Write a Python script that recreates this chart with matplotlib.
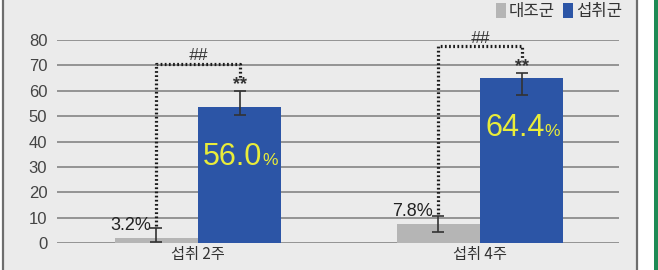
import matplotlib
matplotlib.use("Agg")
import matplotlib.pyplot as plt
from matplotlib.patches import Rectangle
import numpy as np

# --- dati ---
gruppi = ["섭취 2주", "섭취 4주"]
serie = ["대조군", "섭취군"]
controllo = [2.1, 7.6]
trattato = [53.7, 65.0]
controllo_err_basso = [1.5, 3.3]
controllo_err_alto = [3.9, 3.0]
trattato_err_basso = [3.3, 6.7]
trattato_err_alto = [6.3, 2.0]
etichette_controllo = ["3.2%", "7.8%"]
etichette_trattato = ["56.0", "64.4"]
y_ticks = [0, 10, 20, 30, 40, 50, 60, 70, 80]

COL_GRIGIO = "#b5b5b5"
COL_BLU = "#2c55a6"
COL_GIALLO = "#e9ec3a"
COL_SFONDO = "#ebebeb"
FONT_NUM = "Liberation Sans"
FONT_KR = ["Noto Sans CJK KR", "DejaVu Sans"]

W, H = 658, 270
fig = plt.figure(figsize=(W / 100, H / 100), dpi=100)
fig.patch.set_facecolor("white")

# pannello grigio con cornice
fig.patches.append(Rectangle((3 / W, -0.1), (637 - 3) / W, 1.2, transform=fig.transFigure,
                             facecolor=COL_SFONDO, edgecolor="#6e6e6e", lw=1.6, zorder=-5))
fig.patches.append(Rectangle((654 / W, -0.1), 4 / W, 1.2, transform=fig.transFigure,
                             facecolor="#1e8a55", edgecolor="none", zorder=-5))

ax = fig.add_axes([57 / W, (H - 243.3) / H, (619 - 57) / W, (243.3 - 40) / H])
ax.set_facecolor("none")

x = np.arange(len(gruppi))
larg = 0.295
x_c = x - larg / 2
x_t = x + larg / 2

ax.bar(x_c, controllo, width=larg, color=COL_GRIGIO, label=serie[0], zorder=2)
ax.bar(x_t, trattato, width=larg, color=COL_BLU, label=serie[1], zorder=2)
ax.errorbar(x_c, controllo, yerr=[controllo_err_basso, controllo_err_alto], fmt="none",
            ecolor="#333333", elinewidth=1.2, capsize=4, capthick=1.2, zorder=3)
ax.errorbar(x_t, trattato, yerr=[trattato_err_basso, trattato_err_alto], fmt="none",
            ecolor="#333333", elinewidth=1.2, capsize=4, capthick=1.2, zorder=3)

for i in range(len(gruppi)):
    top_c = controllo[i] + controllo_err_alto[i]
    top_t = trattato[i] + trattato_err_alto[i]
    y_br = top_t + 10.5
    # parentesi tratteggiata
    ax.plot([x_c[i], x_c[i], x_t[i], x_t[i]], [top_c + 1, y_br, y_br, top_t + 5],
            color="#1a1a1a", lw=2.3, linestyle=(0, (0.55, 0.75)), zorder=4, clip_on=False)
    ax.text(x[i], y_br + 0.3, "##", ha="center", va="bottom", fontsize=12.5,
            style="italic", color="#333333", family=FONT_NUM, zorder=5)
    ax.text(x_t[i], top_t + 2.5, "**", ha="center", va="center", fontsize=13,
            fontweight="bold", color="#333333", family=FONT_NUM, zorder=5)
    # etichette valori
    ax.annotate(etichette_controllo[i], (x_c[i], controllo[i] + 3), xytext=(-4, 0),
                textcoords="offset points", ha="right", va="baseline", fontsize=13,
                color="#222222", family=FONT_NUM, zorder=5)
    y_lab = trattato[i] - 22.7
    ax.annotate(etichette_trattato[i], (x_t[i], y_lab), xytext=(16.5, 0),
                textcoords="offset points", ha="right", va="baseline", fontsize=22,
                color=COL_GIALLO, family=FONT_NUM, zorder=5)
    ax.annotate("%", (x_t[i], y_lab), xytext=(16.5, 0),
                textcoords="offset points", ha="left", va="baseline", fontsize=12.5,
                color=COL_GIALLO, family=FONT_NUM, zorder=5)

ax.set_xlim(-0.5, 1.493)
ax.set_ylim(0, 80)
ax.set_yticks(y_ticks)
ax.set_xticks(x)
ax.set_xticklabels(gruppi, family=FONT_KR, fontsize=11, color="#333333")
ax.tick_params(axis="x", length=0, pad=2)
ax.tick_params(axis="y", length=0, pad=7, labelsize=12, labelcolor="#444444")
for lab in ax.get_yticklabels():
    lab.set_family(FONT_NUM)
ax.grid(axis="y", color="#8c8c8c", lw=1.3, zorder=1)
ax.set_axisbelow(True)
for sp in ax.spines.values():
    sp.set_visible(False)

leg = ax.legend(loc="upper right", bbox_to_anchor=(622 / W, 1 - 3 / H),
                bbox_transform=fig.transFigure, ncol=2, frameon=False,
                handlelength=0.6, handleheight=1.0, handletextpad=0.15,
                columnspacing=0.5, borderaxespad=0, borderpad=0,
                prop={"family": FONT_KR, "size": 12})
for t in leg.get_texts():
    t.set_color("#333333")

fig.savefig("out.png", dpi=100, facecolor=fig.get_facecolor())
